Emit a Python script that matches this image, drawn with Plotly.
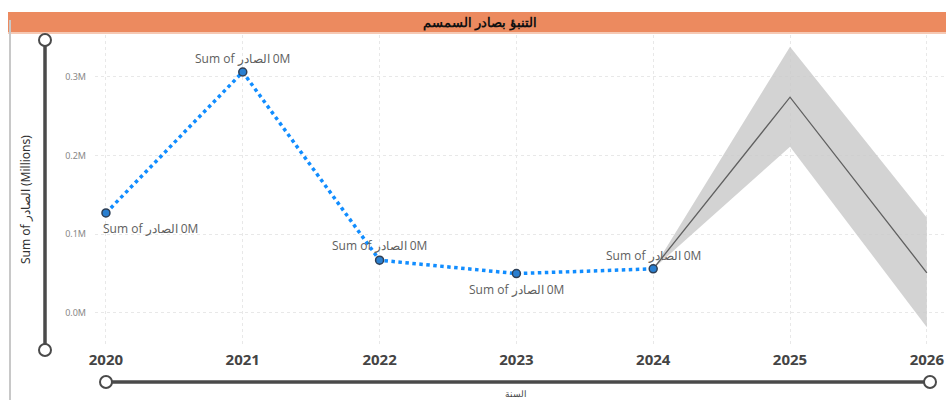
import plotly.graph_objects as go

# Actual exports (الصادر) by year
years = [2020, 2021, 2022, 2023, 2024]
exports = [127000, 306000, 67000, 50000, 56000]

# Forecast with confidence band
fc_years = [2024, 2025, 2026]
fc_mid = [56000, 274000, 51000]
fc_upper = [56000, 338000, 121000]
fc_lower = [56000, 211000, -18000]

y_ticks = [0, 100000, 200000, 300000]
x_ticks = [2020, 2021, 2022, 2023, 2024, 2025, 2026]

# label offsets (px) for each actual point
label_dx = [45, 0, 0, 0, 0]
label_dy = [-16, 14, 15, -16, 13]

W, H = 946, 400
L, R, T, B = 95, 0, 35, 55
PW, PH = W - L - R, H - T - B

LRM = "\u200e"


def px(x):
    return (x - L) / PW


def py(y):
    return (H - B - y) / PH


fig = go.Figure()

fig.add_trace(go.Scatter(
    x=fc_years + fc_years[::-1], y=fc_upper + fc_lower[::-1],
    mode="lines", fill="toself", fillcolor="rgba(200,200,200,0.8)",
    line=dict(width=0), hoverinfo="skip", showlegend=False))
fig.add_trace(go.Scatter(
    x=fc_years, y=fc_mid, mode="lines",
    line=dict(color="#606060", width=1.3), showlegend=False))
fig.add_trace(go.Scatter(
    x=years, y=exports, mode="lines+markers",
    line=dict(color="#118DFF", width=3.5, dash="dot"),
    marker=dict(size=8, color="#2A7FD0", line=dict(color="#2F3F55", width=1.5)),
    showlegend=False))

for x, v, dx, dy in zip(years, exports, label_dx, label_dy):
    fig.add_annotation(x=x, y=v, text=f"Sum of الصادر{LRM} {v / 1e6:.0f}M",
                       showarrow=False, xshift=dx, yshift=dy,
                       xanchor="center", yanchor="middle",
                       font=dict(family="Open Sans", size=12, color="#606060"))

shapes = []
# title bar
shapes.append(dict(type="rect", xref="paper", yref="paper",
                   x0=px(8), x1=px(W), y0=py(33), y1=py(12),
                   fillcolor="#EC8A5F", line=dict(width=0), layer="above"))
shapes.append(dict(type="line", xref="paper", yref="paper",
                   x0=px(8), x1=px(W), y0=py(33), y1=py(33),
                   line=dict(color="#F6C9B4", width=2), layer="above"))
# left frame line
shapes.append(dict(type="line", xref="paper", yref="paper",
                   x0=px(10), x1=px(10), y0=py(20), y1=py(400),
                   line=dict(color="#C8C8C8", width=2)))
# vertical range slider
shapes.append(dict(type="line", xref="paper", yref="paper",
                   x0=px(45), x1=px(45), y0=py(40), y1=py(350),
                   line=dict(color="#4A4A4A", width=3.5)))
# horizontal range slider
shapes.append(dict(type="line", xref="paper", yref="paper",
                   x0=px(106), x1=px(930), y0=py(382), y1=py(382),
                   line=dict(color="#4A4A4A", width=3.5)))
for cx, cy in [(45, 40), (45, 350), (106, 382), (930, 382)]:
    shapes.append(dict(type="circle", xref="paper", yref="paper",
                       x0=px(cx - 6), x1=px(cx + 6), y0=py(cy + 6), y1=py(cy - 6),
                       fillcolor="white", line=dict(color="#4A4A4A", width=2)))

fig.update_layout(shapes=shapes)

fig.add_annotation(xref="paper", yref="paper", x=px(480), y=py(22),
                   xanchor="center", yanchor="middle",
                   text="<b>التنبؤ بصادر السمسم</b>", showarrow=False,
                   font=dict(family="Noto Sans", size=13, color="#111"))
fig.add_annotation(xref="paper", yref="paper", x=px(25), y=py(200),
                   xanchor="center", yanchor="middle",
                   text=f"Sum of الصادر{LRM} (Millions)", textangle=-90, showarrow=False,
                   font=dict(family="Noto Sans", size=12, color="#333"))
fig.add_annotation(xref="paper", yref="paper", x=px(516), y=py(393),
                   xanchor="center", yanchor="middle", text="السنة", showarrow=False,
                   font=dict(family="Noto Sans", size=9, color="#444"))

fig.update_xaxes(range=[2019.92, 2026.14], tickvals=x_ticks,
                 ticktext=[str(t) for t in x_ticks],
                 tickfont=dict(family="Open Sans", size=15, color="#444", weight="bold"),
                 showgrid=True, gridcolor="#E8E8E8", griddash="dot",
                 zeroline=False, showline=False, ticks="", ticklabelstandoff=4)
fig.update_yaxes(range=[-40700, 353000], tickvals=y_ticks,
                 ticktext=[f"{t / 1e6:.1f}M" for t in y_ticks],
                 tickfont=dict(family="Noto Sans", size=9, color="#888"),
                 showgrid=True, gridcolor="#E8E8E8", griddash="dot",
                 zeroline=False, showline=False, ticks="", ticklabelstandoff=8)

fig.update_layout(width=W, height=H, margin=dict(l=L, r=R, t=T, b=B),
                  paper_bgcolor="white", plot_bgcolor="white")

fig.write_html("out.html")
